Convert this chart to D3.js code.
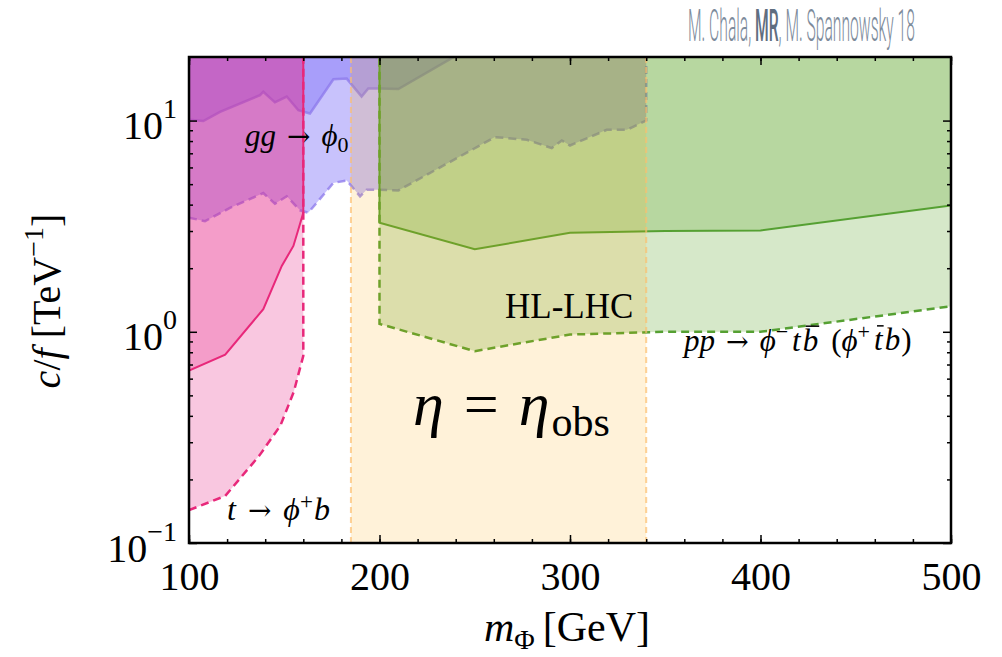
<!DOCTYPE html>
<html><head><meta charset="utf-8">
<script src="https://cdn.jsdelivr.net/npm/d3@7"></script>
<style>body{margin:0;background:#fff}svg{display:block}</style>
</head><body><svg id="c" width="1002" height="657"></svg>
<script>
// ---- data (m in GeV, c/f in TeV^-1) ----
const massDomain = [100, 500];
const couplingDomain = [0.1, 20];
const xTickValues = [100, 200, 300, 400, 500];
const xMinorTickValues = d3.range(100, 501, 20);
const yTickValues = [0.1, 1, 10];
const yTickExponents = ["\u22121", "0", "1"];
const yMinorTickValues = [0.2,0.3,0.4,0.5,0.6,0.7,0.8,0.9,2,3,4,5,6,7,8,9];

// t -> phi+ b
const topExpected = [[100,0.143],[119,0.167],[137,0.26],[148,0.36],[155,0.52],[160,0.77]];
const topObserved = [[100,0.655],[119,0.78],[139,1.28],[148.7,2.05],[154.8,2.55],[157.4,3.05],[160,3.66]];
const topMassEdge = 160;

// gg -> phi0
const ggExpected = [[100,3.47],[108.4,3.34],[121.5,3.86],[139,4.54],[145.1,4.04],[151.3,4.38],[158.3,3.76],[162.6,3.66],
  [175.8,5.07],[182.8,5.21],[189.8,4.38],[193.3,4.71],[200,4.71],[209.9,4.67],[260.6,8.35],[277.3,8.11],[290.4,7.41],
  [295.7,8.05],[300,7.62],[319.3,9.04],[329.8,9.04],[340,10.0]];
const ggObserved = [[100,10.1],[107.5,9.95],[116.3,11.0],[137.3,13.2],[139,13.7],[145.1,12.2],[151.3,13.0],[157.4,11.2],
  [163.5,10.8],[175.8,15.7],[182.8,15.8],[190.6,13.0],[194.1,14.2],[200,14.2],[209.9,14.1],[239,20]];
const ggMassEdge = 340;

// pp -> phi- t bbar (HL-LHC)
const ppExpected = [[200,1.09],[250,0.81],[300,0.97],[350,1.0],[400,1.0],[500,1.32]];
const ppObserved = [[200,3.28],[250,2.46],[300,2.94],[350,3.0],[400,3.02],[500,3.96]];

// eta = eta_obs band
const etaBand = [185, 340];

// ---- layout ----
const svg = d3.select("#c");
const L = 189, R = 951, T = 57, B = 543;
const x = d3.scaleLinear(massDomain, [L, R]);
const y = d3.scaleLog(couplingDomain, [B, T]);
const serif = "'Liberation Serif','DejaVu Serif',serif";
const arrowFont = "'DejaVu Serif',serif";

svg.append("defs").append("clipPath").attr("id","plotclip")
  .append("rect").attr("x",L).attr("y",T).attr("width",R-L).attr("height",B-T);
const g = svg.append("g").attr("clip-path","url(#plotclip)");

const line = d3.line().x(d=>x(d[0])).y(d=>y(d[1]));
function regionToTop(pts, xRight, xLeft){
  const p = pts.map(d=>[x(d[0]),y(d[1])]);
  p.push([x(xRight), T-5]); p.push([x(xLeft), T-5]);
  return "M" + p.map(d=>d.join(",")).join("L") + "Z";
}

// purple (gg -> phi0)
const purple = "rgb(124,110,248)";
g.append("path").attr("d", regionToTop(ggExpected, ggMassEdge, 100)).attr("fill", purple).attr("fill-opacity",0.42);
g.append("path").attr("d", regionToTop(ggObserved, ggObserved[ggObserved.length-1][0], 100)).attr("fill", purple).attr("fill-opacity",0.42);
g.append("path").attr("d", line(ggExpected.concat([[ggMassEdge, 30]])))
  .attr("fill","none").attr("stroke","rgb(140,120,235)").attr("stroke-opacity",0.75)
  .attr("stroke-width",2.5).attr("stroke-dasharray","8,5");
g.append("path").attr("d", line(ggObserved.concat([[ggObserved[ggObserved.length-1][0]+5, 22]])))
  .attr("fill","none").attr("stroke","rgb(140,120,235)").attr("stroke-opacity",0.75).attr("stroke-width",2.5);

// pink (t -> phi+ b)
const pink = "rgb(230,30,130)";
g.append("path").attr("d", regionToTop(topExpected, topMassEdge, 100)).attr("fill", pink).attr("fill-opacity",0.25);
g.append("path").attr("d", regionToTop(topObserved, topMassEdge, 100)).attr("fill", pink).attr("fill-opacity",0.25);
g.append("path").attr("d", line(topExpected.concat([[topMassEdge, 30]])))
  .attr("fill","none").attr("stroke","rgb(232,40,122)").attr("stroke-width",2.5).attr("stroke-dasharray","8,5");
g.append("path").attr("d", line(topObserved.concat([[topMassEdge, 30]])))
  .attr("fill","none").attr("stroke","rgb(232,40,122)").attr("stroke-width",2);

// green (pp -> phi- t bbar)
const green = "rgb(90,165,40)";
g.append("path").attr("d", regionToTop(ppExpected, 500, 200)).attr("fill", green).attr("fill-opacity",0.25);
g.append("path").attr("d", regionToTop(ppObserved, 500, 200)).attr("fill", green).attr("fill-opacity",0.25);
g.append("path").attr("d", line([[200,30]].concat(ppExpected)))
  .attr("fill","none").attr("stroke","rgb(85,160,50)").attr("stroke-width",2.5).attr("stroke-dasharray","8,5");
g.append("path").attr("d", line([[200,30]].concat(ppObserved)))
  .attr("fill","none").attr("stroke","rgb(85,160,50)").attr("stroke-width",2);

// yellow band
g.append("rect").attr("x", x(etaBand[0])).attr("width", x(etaBand[1])-x(etaBand[0]))
  .attr("y", T).attr("height", B-T).attr("fill","orange").attr("fill-opacity",0.15);
etaBand.forEach(m=>{
  g.append("line").attr("x1",x(m)).attr("x2",x(m)).attr("y1",T).attr("y2",B)
    .attr("stroke","rgb(252,190,110)").attr("stroke-opacity",0.7).attr("stroke-width",2).attr("stroke-dasharray","6,4");
});

// ---- axes with inward ticks ----
function styleAxis(sel){ sel.select(".domain").remove(); sel.selectAll("line").attr("stroke","#000").attr("stroke-width",1.5); }
svg.append("g").attr("transform",`translate(0,${B})`)
  .call(d3.axisBottom(x).tickValues(xMinorTickValues).tickSize(-4).tickFormat(""))
  .call(styleAxis);
svg.append("g").attr("transform",`translate(0,${T})`)
  .call(d3.axisTop(x).tickValues(xMinorTickValues).tickSize(-4).tickFormat(""))
  .call(styleAxis);
svg.append("g").attr("transform",`translate(0,${T})`)
  .call(d3.axisTop(x).tickValues(xTickValues).tickSize(-8).tickFormat(""))
  .call(styleAxis);
const xAx = svg.append("g").attr("transform",`translate(0,${B})`)
  .call(d3.axisBottom(x).tickValues(xTickValues).tickSize(-8).tickPadding(19).tickFormat(d3.format("d")))
  .call(styleAxis);
xAx.selectAll("text").attr("font-family",serif).attr("font-size",40).attr("fill","#000").attr("dy","0.71em");

svg.append("g").attr("transform",`translate(${L},0)`)
  .call(d3.axisLeft(y).tickValues(yMinorTickValues).tickSize(-4).tickFormat(""))
  .call(styleAxis);
svg.append("g").attr("transform",`translate(${R},0)`)
  .call(d3.axisRight(y).tickValues(yMinorTickValues).tickSize(-4).tickFormat(""))
  .call(styleAxis);
svg.append("g").attr("transform",`translate(${R},0)`)
  .call(d3.axisRight(y).tickValues(yTickValues).tickSize(-8).tickFormat(""))
  .call(styleAxis);
const yAx = svg.append("g").attr("transform",`translate(${L},0)`)
  .call(d3.axisLeft(y).tickValues(yTickValues).tickSize(-8).tickPadding(12).tickFormat(""))
  .call(styleAxis);
yAx.selectAll(".tick text").each(function(d,i){
  const t = d3.select(this).attr("font-family",serif).attr("font-size",40).attr("fill","#000")
    .attr("text-anchor","end").attr("dy","0.45em");
  t.append("tspan").text("10");
  t.append("tspan").attr("font-size",28).attr("dy","-0.75em").text(yTickExponents[i]);
});

// frame
svg.append("rect").attr("x",L).attr("y",T).attr("width",R-L).attr("height",B-T)
  .attr("fill","none").attr("stroke","#000").attr("stroke-width",2.5);

// ---- axis titles ----
const xl = svg.append("text").attr("x",567).attr("y",641).attr("text-anchor","middle")
  .attr("font-family",serif).attr("font-size",42).attr("fill","#000");
xl.append("tspan").attr("font-style","italic").text("m");
xl.append("tspan").attr("font-size",28).attr("dy","0.3em").text("\u03A6");
xl.append("tspan").attr("dy","-0.2em").attr("dx",8).text("[GeV]");

const yl = svg.append("text").attr("transform","translate(60,301) rotate(-90)").attr("text-anchor","middle")
  .attr("font-family",serif).attr("font-size",40).attr("fill","#000");
yl.append("tspan").attr("font-style","italic").text("c");
yl.append("tspan").text("/");
yl.append("tspan").attr("font-style","italic").text("f");
yl.append("tspan").attr("dx",10).text("[TeV");
yl.append("tspan").attr("font-size",28).attr("dy","-0.6em").text("\u22121");
yl.append("tspan").attr("dy","0.42em").text("]");

// ---- in-plot labels ----
const gg = svg.append("text").attr("x",245).attr("y",146).attr("font-family",serif).attr("font-size",31).attr("fill","#000");
gg.append("tspan").attr("font-style","italic").text("gg");
gg.append("tspan").attr("dx",11).attr("font-family",arrowFont).attr("font-size",28).text("\u2192");
gg.append("tspan").attr("dx",11).attr("font-style","italic").text("\u03D5");
gg.append("tspan").attr("font-size",22).attr("dy","0.25em").text("0");

const tb = svg.append("text").attr("x",227).attr("y",520).attr("font-family",serif).attr("font-size",32).attr("fill","#000");
tb.append("tspan").attr("font-style","italic").text("t");
tb.append("tspan").attr("dx",12).attr("font-family",arrowFont).attr("font-size",28).text("\u2192");
tb.append("tspan").attr("dx",12).attr("font-style","italic").text("\u03D5");
tb.append("tspan").attr("font-size",23).attr("dy","-0.5em").text("+");
tb.append("tspan").attr("font-style","italic").attr("dy","0.36em").attr("dx",1).text("b");

svg.append("text").attr("x",505).attr("y",318).attr("font-family",serif).attr("font-size",35).attr("fill","#000").text("HL-LHC");

const pp = svg.append("text").attr("x",684).attr("y",351).attr("font-family",serif).attr("font-size",31).attr("fill","#000");
pp.append("tspan").attr("font-style","italic").text("pp");
pp.append("tspan").attr("dx",11).attr("font-family",arrowFont).attr("font-size",27).text("\u2192");
pp.append("tspan").attr("dx",11).attr("font-style","italic").text("\u03D5");
pp.append("tspan").attr("font-size",22).attr("dy","-0.55em").text("\u2212");
pp.append("tspan").attr("font-style","italic").attr("dy","0.38em").attr("dx",4).text("t");
pp.append("tspan").attr("font-style","italic").attr("dx",2).text("b");
pp.append("tspan").attr("dx",13).text("(");
pp.append("tspan").attr("font-style","italic").text("\u03D5");
pp.append("tspan").attr("font-size",22).attr("dy","-0.55em").text("+");
pp.append("tspan").attr("font-style","italic").attr("dy","0.38em").attr("dx",4).text("t");
pp.append("tspan").attr("font-style","italic").attr("dx",2).text("b");
pp.append("tspan").attr("dx",1).text(")");
// overbars on the barred quarks (character indices in the label: b of "tb", t of "tb)")
const ppNode = pp.node();
[6, 10].forEach(ci=>{
  const e = ppNode.getExtentOfChar(ci);
  svg.append("line").attr("x1", e.x + 3).attr("x2", e.x + e.width + 1)
    .attr("y1", e.y + e.height*0.1).attr("y2", e.y + e.height*0.1)
    .attr("stroke","#000").attr("stroke-width",1.5);
});

const eta = svg.append("text").attr("x",413).attr("y",425).attr("font-family",serif).attr("font-size",62).attr("fill","#000");
eta.append("tspan").attr("font-style","italic").text("\u03B7");
eta.append("tspan").attr("dx",20).text("=");
eta.append("tspan").attr("dx",20).attr("font-style","italic").text("\u03B7");
eta.append("tspan").attr("font-size",42).attr("dy","0.25em").attr("dx",2).text("obs");

// ---- credit (condensed by horizontal scaling) ----
const crG = svg.append("g");
const cr = crG.append("text").attr("x",0).attr("y",0).attr("font-family","Roboto,'Open Sans',sans-serif")
  .attr("font-size",44).attr("font-weight",300).attr("fill","rgb(125,139,155)");
cr.append("tspan").text("M. Chala, ");
cr.append("tspan").attr("font-weight",500).attr("fill","rgb(95,110,128)").text("MR");
cr.append("tspan").text(", M. Spannowsky 18");
const crW = cr.node().getComputedTextLength();
crG.attr("transform", `translate(688,41) scale(${227/crW},1)`);
</script></body></html>
